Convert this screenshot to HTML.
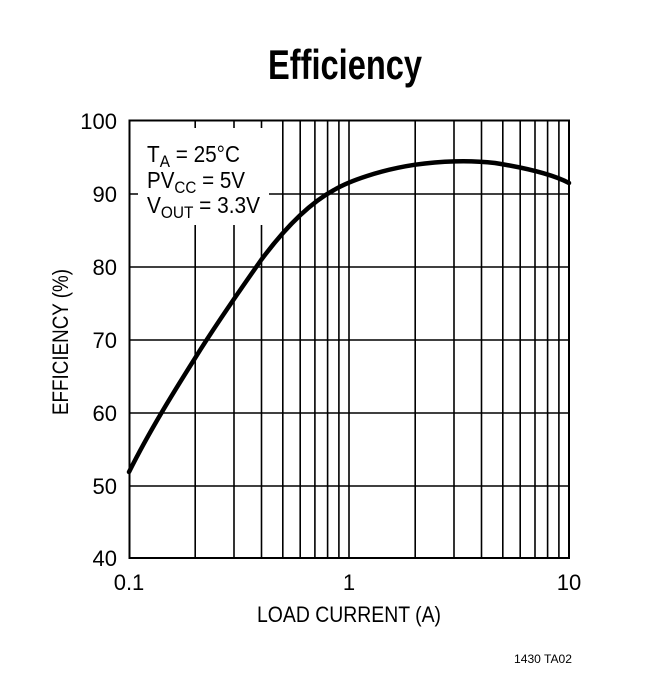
<!DOCTYPE html>
<html><head><meta charset="utf-8"><style>
html,body{margin:0;padding:0;background:#fff;}
svg{display:block;}
text{font-family:"Liberation Sans",sans-serif;fill:#000;}
</style></head><body>
<svg width="670" height="685" viewBox="0 0 670 685" xmlns="http://www.w3.org/2000/svg">
<text x="268" y="79" font-size="42" font-weight="bold" textLength="154" lengthAdjust="spacingAndGlyphs">Efficiency</text>
<g stroke="#000" stroke-width="1.6" fill="none">
<line x1="129" y1="194" x2="569" y2="194"/>
<line x1="129" y1="267" x2="569" y2="267"/>
<line x1="129" y1="340" x2="569" y2="340"/>
<line x1="129" y1="413" x2="569" y2="413"/>
<line x1="129" y1="486" x2="569" y2="486"/>
<line x1="195.2" y1="121" x2="195.2" y2="558"/>
<line x1="234" y1="121" x2="234" y2="558"/>
<line x1="261.5" y1="121" x2="261.5" y2="558"/>
<line x1="282.8" y1="121" x2="282.8" y2="558"/>
<line x1="300.2" y1="121" x2="300.2" y2="558"/>
<line x1="314.9" y1="121" x2="314.9" y2="558"/>
<line x1="327.6" y1="121" x2="327.6" y2="558"/>
<line x1="338.9" y1="121" x2="338.9" y2="558"/>
<line x1="349" y1="121" x2="349" y2="558"/>
<line x1="415.2" y1="121" x2="415.2" y2="558"/>
<line x1="454" y1="121" x2="454" y2="558"/>
<line x1="481.5" y1="121" x2="481.5" y2="558"/>
<line x1="502.8" y1="121" x2="502.8" y2="558"/>
<line x1="520.2" y1="121" x2="520.2" y2="558"/>
<line x1="535" y1="121" x2="535" y2="558"/>
<line x1="547.6" y1="121" x2="547.6" y2="558"/>
<line x1="558.9" y1="121" x2="558.9" y2="558"/>
</g>
<rect x="138" y="128" width="131" height="97" fill="#fff"/>
<rect x="129.5" y="120.5" width="439.5" height="437.5" fill="none" stroke="#000" stroke-width="2"/>
<text x="147" y="162" font-size="23" textLength="93" lengthAdjust="spacingAndGlyphs">T<tspan font-size="17" dy="5">A</tspan><tspan dy="-5"> = 25°C</tspan></text>
<text x="147" y="188" font-size="23" textLength="98" lengthAdjust="spacingAndGlyphs">PV<tspan font-size="17" dy="5">CC</tspan><tspan dy="-5"> = 5V</tspan></text>
<text x="147" y="213" font-size="23" textLength="113" lengthAdjust="spacingAndGlyphs">V<tspan font-size="17" dy="5">OUT</tspan><tspan dy="-5"> = 3.3V</tspan></text>
<path fill="none" stroke="#000" stroke-width="4.5" stroke-linecap="round"
d="M129,472 C150,430 175,390 195.2,357.9 C215,326 240,290 261.5,259.5 C285,228 310,203 334,190 C349,181 380,170 415.2,164.7 C440,161 470,160 495,163 C520,167 550,173 569,183"/>
<g font-size="22" text-anchor="end">
<text x="117" y="129">100</text>
<text x="117" y="202">90</text>
<text x="117" y="275">80</text>
<text x="117" y="348">70</text>
<text x="117" y="421">60</text>
<text x="117" y="494">50</text>
<text x="117" y="566">40</text>
</g>
<g font-size="22" text-anchor="middle">
<text x="129" y="590">0.1</text>
<text x="349" y="590">1</text>
<text x="569" y="590">10</text>
</g>
<text x="257" y="622" font-size="22" textLength="184" lengthAdjust="spacingAndGlyphs">LOAD CURRENT (A)</text>
<text transform="translate(68,415) rotate(-90)" font-size="22" textLength="146" lengthAdjust="spacingAndGlyphs">EFFICIENCY (%)</text>
<text x="514" y="663" font-size="12" textLength="58" lengthAdjust="spacingAndGlyphs">1430 TA02</text>
</svg>
</body></html>
